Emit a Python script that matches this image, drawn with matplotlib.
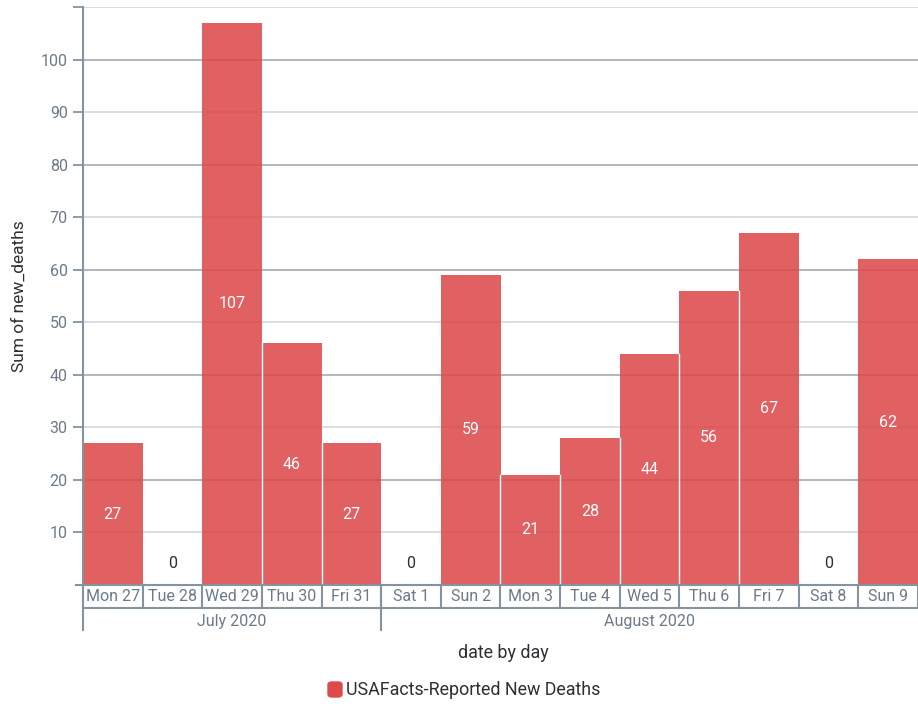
import matplotlib.pyplot as plt
import matplotlib.patches as mpatches
import matplotlib.transforms as mtransforms
import numpy as np

plt.rcParams.update({
    "font.family": ["Roboto", "DejaVu Sans"],
    "font.size": 11,
})

# Data
day_labels = ["Mon 27", "Tue 28", "Wed 29", "Thu 30", "Fri 31", "Sat 1", "Sun 2",
              "Mon 3", "Tue 4", "Wed 5", "Thu 6", "Fri 7", "Sat 8", "Sun 9"]
new_deaths = [27, 0, 107, 46, 27, 0, 59, 21, 28, 44, 56, 67, 0, 62]
months = ["July 2020", "August 2020"]
month_days = [5, 9]

bar_color = "#dd4a4b"
axis_color = "#8593a0"
tick_text = "#6a7a8a"
dark_text = "#2b2f36"

fig = plt.figure(figsize=(9.18, 7.06), dpi=100)
W, H = 918, 706
ax = fig.add_axes([83 / W, 1 - 585 / H, (918 - 83) / W, (585 - 7) / H])

x = np.arange(len(new_deaths))
ax.set_xlim(-0.5, len(new_deaths) - 0.5)
ax.set_ylim(0, 110)

# grid: darker every 20, lighter in between
for v in range(10, 111, 10):
    col = "#a9b2b9" if v % 20 == 0 else "#d3dce2"
    ax.axhline(v, color=col, linewidth=1.3, zorder=1)

ax.bar(x, new_deaths, width=1.0, color=bar_color, alpha=0.88,
       edgecolor="none", zorder=2)
# thin white separators between bars
for i in range(1, len(new_deaths)):
    h = min(new_deaths[i - 1], new_deaths[i])
    if h > 0:
        ax.plot([i - 0.5, i - 0.5], [0, h], color="white", linewidth=1.0, zorder=2.5)

# value labels
for xi, v in zip(x, new_deaths):
    if v > 0:
        ax.text(xi, v / 2, str(v), ha="center", va="center",
                color="white", fontsize=11.5, zorder=3)
    else:
        ax.text(xi, 4, "0", ha="center", va="center",
                color=dark_text, fontsize=11.5, zorder=3)

# y axis
ax.set_yticks(range(10, 111, 10))
ax.set_yticklabels([str(v) if v <= 100 else "" for v in range(10, 111, 10)])
ax.tick_params(axis="y", colors=axis_color, labelcolor=tick_text,
               length=7, width=1.3, labelsize=11.5, pad=4)
ax.set_xticks([])
for s in ["top", "right"]:
    ax.spines[s].set_visible(False)
ax.spines["left"].set_color(axis_color)
ax.spines["left"].set_linewidth(1.5)
ax.spines["bottom"].set_color(axis_color)
ax.spines["bottom"].set_linewidth(1.5)
ax.set_ylabel("Sum of new_deaths", color=dark_text, fontsize=12.5, labelpad=10)

# hierarchical x axis below the plot
ax_h = 578
row1 = -23 / ax_h
row2 = -45 / ax_h
trans = mtransforms.blended_transform_factory(ax.transData, ax.transAxes)
lkw = dict(transform=trans, color=axis_color, linewidth=1.5, clip_on=False)

ax.plot([-0.5, len(new_deaths) - 0.5], [row1, row1], **lkw)
ax.plot([-0.62, -0.5], [0, 0], **lkw)
for i, lab in enumerate(day_labels):
    ax.text(i, row1 / 2, lab, transform=trans, ha="center", va="center",
            color=tick_text, fontsize=11.5)
for i in range(1, len(day_labels) + 1):
    ax.plot([i - 0.5, i - 0.5], [0, row1], **lkw)

start = 0
for m, n in zip(months, month_days):
    ax.plot([start - 0.5, start - 0.5], [0, row2], **lkw)
    ax.text(start - 0.5 + n / 2, (row1 + row2) / 2 - 0.004, m, transform=trans,
            ha="center", va="center", color=tick_text, fontsize=11.5)
    start += n

fig.text(503 / W, 1 - 653 / H, "date by day", ha="center", va="center",
         color=dark_text, fontsize=12.9)

# legend
fig.patches.append(mpatches.FancyBboxPatch(
    (328 / W, 1 - 697 / H), 14 / W, 15 / H,
    boxstyle="round,pad=0,rounding_size=0.004",
    transform=fig.transFigure, color=bar_color, figure=fig))
fig.text(346 / W, 1 - 690 / H, "USAFacts-Reported New Deaths", ha="left",
         va="center", color=dark_text, fontsize=12.9)

fig.savefig("out.png", dpi=100)
